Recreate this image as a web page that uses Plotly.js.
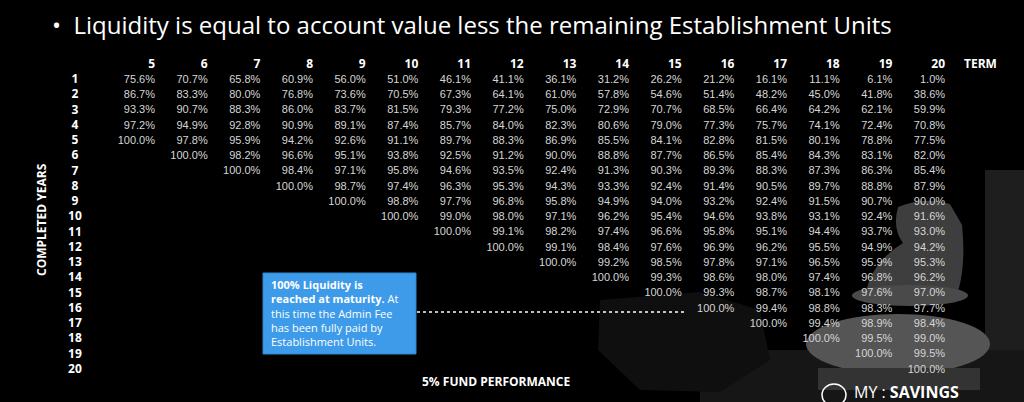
<!DOCTYPE html>
<html>
<head>
<meta charset="utf-8">
<script src="https://cdn.plot.ly/plotly-3.0.1.min.js"></script>
<style>
  html, body { margin: 0; padding: 0; background: #000; }
  #graph { width: 1024px; height: 402px; }
</style>
</head>
<body>
<div id="graph"></div>
<script>
/* ---------------- data: liquidity (%) by term, one value per completed year ---------------- */

var terms = [5, 6, 7, 8, 9, 10, 11, 12, 13, 14, 15, 16, 17, 18, 19, 20];
var years = [1, 2, 3, 4, 5, 6, 7, 8, 9, 10, 11, 12, 13, 14, 15, 16, 17, 18, 19, 20];

var term5 = [75.6, 86.7, 93.3, 97.2, 100.0];
var term6 = [70.7, 83.3, 90.7, 94.9, 97.8, 100.0];
var term7 = [65.8, 80.0, 88.3, 92.8, 95.9, 98.2, 100.0];
var term8 = [60.9, 76.8, 86.0, 90.9, 94.2, 96.6, 98.4, 100.0];
var term9 = [56.0, 73.6, 83.7, 89.1, 92.6, 95.1, 97.1, 98.7, 100.0];
var term10 = [51.0, 70.5, 81.5, 87.4, 91.1, 93.8, 95.8, 97.4, 98.8, 100.0];
var term11 = [46.1, 67.3, 79.3, 85.7, 89.7, 92.5, 94.6, 96.3, 97.7, 99.0, 100.0];
var term12 = [41.1, 64.1, 77.2, 84.0, 88.3, 91.2, 93.5, 95.3, 96.8, 98.0, 99.1, 100.0];
var term13 = [36.1, 61.0, 75.0, 82.3, 86.9, 90.0, 92.4, 94.3, 95.8, 97.1, 98.2, 99.1, 100.0];
var term14 = [31.2, 57.8, 72.9, 80.6, 85.5, 88.8, 91.3, 93.3, 94.9, 96.2, 97.4, 98.4, 99.2, 100.0];
var term15 = [26.2, 54.6, 70.7, 79.0, 84.1, 87.7, 90.3, 92.4, 94.0, 95.4, 96.6, 97.6, 98.5, 99.3, 100.0];
var term16 = [21.2, 51.4, 68.5, 77.3, 82.8, 86.5, 89.3, 91.4, 93.2, 94.6, 95.8, 96.9, 97.8, 98.6, 99.3, 100.0];
var term17 = [16.1, 48.2, 66.4, 75.7, 81.5, 85.4, 88.3, 90.5, 92.4, 93.8, 95.1, 96.2, 97.1, 98.0, 98.7, 99.4, 100.0];
var term18 = [11.1, 45.0, 64.2, 74.1, 80.1, 84.3, 87.3, 89.7, 91.5, 93.1, 94.4, 95.5, 96.5, 97.4, 98.1, 98.8, 99.4, 100.0];
var term19 = [6.1, 41.8, 62.1, 72.4, 78.8, 83.1, 86.3, 88.8, 90.7, 92.4, 93.7, 94.9, 95.9, 96.8, 97.6, 98.3, 98.9, 99.5, 100.0];
var term20 = [1.0, 38.6, 59.9, 70.8, 77.5, 82.0, 85.4, 87.9, 90.0, 91.6, 93.0, 94.2, 95.3, 96.2, 97.0, 97.7, 98.4, 99.0, 99.5, 100.0];

var columns = [term5, term6, term7, term8, term9, term10, term11, term12,
               term13, term14, term15, term16, term17, term18, term19, term20];

/* ---------------- page geometry helpers (paper coords from pixels) ---------------- */

var W = 1024, H = 402;
function px(x) { return x / W; }
function py(y) { return 1 - y / H; }
function pt(x, y) { return px(x).toFixed(4) + ',' + py(y).toFixed(4); }

/* ---------------- traces ---------------- */

var cellX = [], cellY = [], cellText = [];
columns.forEach(function(col, i) {
    col.forEach(function(v, j) {
        cellX.push(terms[i]);
        cellY.push(years[j]);
        cellText.push(v.toFixed(1) + '%');
    });
});

var cells = {
    x: cellX,
    y: cellY,
    text: cellText,
    mode: 'text',
    type: 'scatter',
    textposition: 'middle left',
    textfont: {family: 'Liberation Sans, Arial, sans-serif', size: 11, color: '#d6d6d6'},
    hoverinfo: 'skip'
};

var termHeaders = {
    x: terms,
    y: terms.map(function() { return 0; }),
    text: terms.map(String),
    mode: 'text',
    type: 'scatter',
    textposition: 'middle left',
    textfont: {family: 'Open Sans, sans-serif', size: 12, weight: 'bold', color: '#ffffff'},
    hoverinfo: 'skip'
};

var yearLabels = {
    x: years.map(function() { return 3.48; }),
    y: years,
    text: years.map(String),
    mode: 'text',
    type: 'scatter',
    textposition: 'middle center',
    textfont: {family: 'Open Sans, sans-serif', size: 12, weight: 'bold', color: '#ffffff'},
    hoverinfo: 'skip'
};

/* ---------------- background picture (rough chess pieces, kept dim) ---------------- */

var shapes = [
    // board / floor at bottom right
    {type: 'rect', xref: 'paper', yref: 'paper', x0: px(700), x1: px(1024), y0: py(402), y1: py(350),
     fillcolor: '#161616', line: {width: 0}, layer: 'below'},
    {type: 'rect', xref: 'paper', yref: 'paper', x0: px(985), x1: px(1024), y0: py(350), y1: py(170),
     fillcolor: '#1e1e1e', line: {width: 0}, layer: 'below'},
    // fallen dark piece
    {type: 'path', xref: 'paper', yref: 'paper', layer: 'below',
     path: 'M' + pt(600, 300) + ' L' + pt(700, 292) + ' L' + pt(760, 310) + ' L' + pt(770, 360) +
           ' L' + pt(720, 392) + ' L' + pt(640, 390) + ' L' + pt(598, 350) + ' Z',
     fillcolor: '#0f0f0f', line: {width: 0}},
    // knight head and neck
    {type: 'path', xref: 'paper', yref: 'paper', layer: 'below',
     path: 'M' + pt(898, 207) + ' Q' + pt(925, 196) + ' ' + pt(950, 204) + ' L' + pt(962, 225) +
           ' Q' + pt(966, 265) + ' ' + pt(958, 292) + ' L' + pt(866, 292) +
           ' Q' + pt(872, 262) + ' ' + pt(903, 243) + ' Q' + pt(892, 228) + ' ' + pt(898, 207) + ' Z',
     fillcolor: '#3e3e3e', line: {width: 0}},
    // collar
    {type: 'circle', xref: 'paper', yref: 'paper', layer: 'below',
     x0: px(852), x1: px(968), y0: py(306), y1: py(285),
     fillcolor: '#4a4a4a', line: {width: 0}},
    // base body
    {type: 'circle', xref: 'paper', yref: 'paper', layer: 'below',
     x0: px(806), x1: px(990), y0: py(374), y1: py(314),
     fillcolor: '#555555', line: {width: 0}},
    {type: 'rect', xref: 'paper', yref: 'paper', layer: 'below',
     x0: px(818), x1: px(980), y0: py(390), y1: py(368),
     fillcolor: '#333333', line: {width: 0}},
    // callout box
    {type: 'rect', xref: 'paper', yref: 'paper', layer: 'above',
     x0: px(263), x1: px(416), y0: py(354), y1: py(273),
     fillcolor: '#3d9be9', line: {width: 1, color: '#2f86d0'}},
    // dotted leader
    {type: 'line', xref: 'paper', yref: 'paper', layer: 'above',
     x0: px(417), x1: px(686), y0: py(312), y1: py(312),
     line: {width: 1.5, color: '#ffffff', dash: 'dot'}},
    // logo mark
    {type: 'circle', xref: 'paper', yref: 'paper', layer: 'above',
     x0: px(822), x1: px(846), y0: py(406), y1: py(384),
     line: {width: 1.5, color: '#ffffff'}}
];

/* ---------------- text annotations ---------------- */

var annotations = [
    {xref: 'paper', yref: 'paper', x: px(50), y: py(25), xanchor: 'left', yanchor: 'middle',
     text: '•  Liquidity is equal to account value less the remaining Establishment Units',
     showarrow: false, font: {family: 'Open Sans, sans-serif', size: 24, color: '#ffffff'}},
    {xref: 'paper', yref: 'paper', x: px(980), y: py(64), xanchor: 'center', yanchor: 'middle',
     text: '<b>TERM</b>', showarrow: false,
     font: {family: 'Open Sans, sans-serif', size: 12, color: '#ffffff'}},
    {xref: 'paper', yref: 'paper', x: px(42), y: py(220), xanchor: 'center', yanchor: 'middle',
     text: '<b>COMPLETED YEARS</b>', textangle: -90, showarrow: false,
     font: {family: 'Open Sans, sans-serif', size: 12, color: '#ffffff'}},
    {xref: 'paper', yref: 'paper', x: px(496), y: py(381), xanchor: 'center', yanchor: 'middle',
     text: '<b>5% FUND PERFORMANCE</b>', showarrow: false,
     font: {family: 'Open Sans, sans-serif', size: 12, color: '#ffffff'}},
    {xref: 'paper', yref: 'paper', x: px(269), y: py(275), xanchor: 'left', yanchor: 'top',
     align: 'left', showarrow: false,
     text: '<b>100% Liquidity is<br>reached at maturity.</b> At<br>this time the Admin Fee<br>' +
           'has been fully paid by<br>Establishment Units.',
     font: {family: 'Open Sans, sans-serif', size: 11, color: '#ffffff'}},
    {xref: 'paper', yref: 'paper', x: px(852), y: py(392), xanchor: 'left', yanchor: 'middle',
     text: 'MY : <b>SAVINGS</b>', showarrow: false,
     font: {family: 'Open Sans, sans-serif', size: 16, color: '#ffffff'}}
];

/* ---------------- layout ---------------- */

var layout = {
    width: W,
    height: H,
    margin: {l: 0, r: 0, t: 0, b: 0},
    paper_bgcolor: '#000000',
    plot_bgcolor: '#000000',
    showlegend: false,
    xaxis: {range: [2.057, 21.499], visible: false, fixedrange: true},
    yaxis: {range: [22.097, -4.241], visible: false, fixedrange: true},
    shapes: shapes,
    annotations: annotations
};

Plotly.newPlot('graph', [cells, termHeaders, yearLabels], layout, {staticPlot: true});
</script>
</body>
</html>
